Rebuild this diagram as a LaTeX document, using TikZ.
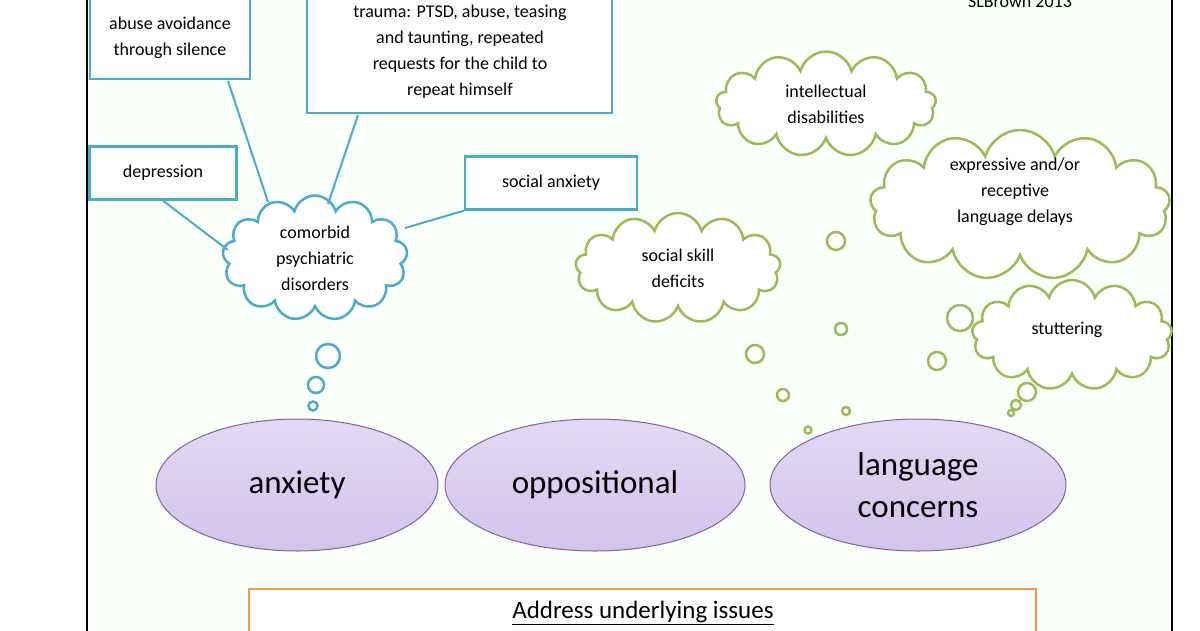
\documentclass[tikz,border=0pt]{standalone}
\usepackage{fontspec}
\setmainfont{Carlito}
\usetikzlibrary{shapes.symbols,shapes.geometric}
\definecolor{bluec}{RGB}{75,172,198}
\definecolor{greenc}{RGB}{155,187,89}
\definecolor{purp}{RGB}{215,200,240}
\definecolor{purpd}{RGB}{128,100,162}
\definecolor{orangec}{RGB}{247,150,70}
\begin{document}
\begin{tikzpicture}[x=1pt,y=-1pt,
  txt/.style={font=\fontsize{18}{26}\selectfont,align=center},
  bbox/.style={txt,draw=bluec,line width=2.5pt,fill=white},
  bcloud/.style={cloud,cloud puffs=13,draw=bluec,line width=2.5pt,fill=white,inner sep=0pt},
  gcloud/.style={cloud,cloud puffs=13,draw=greenc,line width=2.5pt,fill=white,inner sep=0pt},
  bub/.style={circle,draw=bluec,line width=2.5pt,fill=white,inner sep=0pt},
  gbub/.style={circle,draw=greenc,line width=2.5pt,fill=white,inner sep=0pt},
  ell/.style={ellipse,draw=purpd,line width=1pt,top color=purp!70,bottom color=purp!95!purpd,font=\fontsize{33}{42}\selectfont,align=center,inner sep=0pt},
  conn/.style={draw=bluec,line width=2pt}]
\useasboundingbox (0,0) rectangle (1200,630);
\fill[white] (0,0) rectangle (1200,630);
\fill[green!2!white] (87,-5) rectangle (1172,635);
\draw[line width=1.2pt] (87,-5) -- (87,635) (1172,-5) -- (1172,635);
\node[txt,anchor=base] (sl) at (1020,7) {SLBrown 2013};
% blue
\draw[bluec,line width=2.5pt,fill=white] (90,-5) rectangle (250,79);
\node[txt] (abuse) at (170,38) {abuse avoidance\\through silence};
\draw[bluec,line width=2.5pt,fill=white] (307,-5) rectangle (612,113);
\node[txt] (trauma) at (460,52) {trauma: PTSD, abuse, teasing\\and taunting, repeated\\requests for the child to\\repeat himself};
\node[bbox,minimum width=147pt,minimum height=53pt] (dep) at (163,173) {depression};
\node[bbox,minimum width=172pt,minimum height=53pt] (soc) at (551,183) {social anxiety};
\node[bcloud,minimum width=185pt,minimum height=125pt] (como) at (315,258) {};
\node[txt] (comot) at (como.center) {comorbid\\psychiatric\\disorders};
\draw[conn] (dep.south) -- (228,250);
\draw[conn] (228,81) -- (268,202);
\draw[conn] (358,115) -- (328,204);
\draw[conn] (soc.south west) -- (405,228);
\node[bub,minimum size=24pt] (b1) at (328,356) {};
\node[bub,minimum size=16pt] (b2) at (316,385) {};
\node[bub,minimum size=9pt] (b3) at (313,406) {};
% green
\node[gcloud,minimum width=220pt,minimum height=105pt] (intel) at (826,104) {};
\node[txt] (intelt) at (intel.center) {intellectual\\disabilities};
\node[gcloud,minimum width=300pt,minimum height=150pt] (expr) at (1020,205) {};
\node[txt] (exprt) at (1015,192) {expressive and/or\\receptive\\language delays};
\node[gcloud,minimum width=205pt,minimum height=110pt] (ssd) at (678,268) {};
\node[txt] (ssdt) at (ssd.center) {social skill\\deficits};
\node[gcloud,minimum width=200pt,minimum height=110pt] (stut) at (1072,335) {};
\node[txt] (stutt) at (1067,330) {stuttering};
\foreach \n/\x/\y/\r in {g1/836/241/18,g2/841/329/12,g3/755/354/18,g4/783/395/12,g5/808/430/7,g6/846/411/8,g7/960/318/26,g8/937/361/18,g9/1027/392/18,g10/1016/405/10,g11/1011/413/6}
  \node[gbub,minimum size=\r pt] (\n) at (\x,\y) {};
% ellipses
\node[ell,minimum width=282pt,minimum height=132pt] (anx) at (297,485) {anxiety};
\node[ell,minimum width=300pt,minimum height=132pt] (opp) at (595,485) {oppositional};
\node[ell,minimum width=296pt,minimum height=132pt] (lang) at (918,485) {language\\concerns};
% bottom
\draw[orangec,line width=2.5pt,fill=white] (249,640) -- (249,589) -- (1036,589) -- (1036,640);
\node[font=\fontsize{25}{30}\selectfont] (addr) at (643,613) {\underline{Address underlying issues}};
\end{tikzpicture}
\end{document}
